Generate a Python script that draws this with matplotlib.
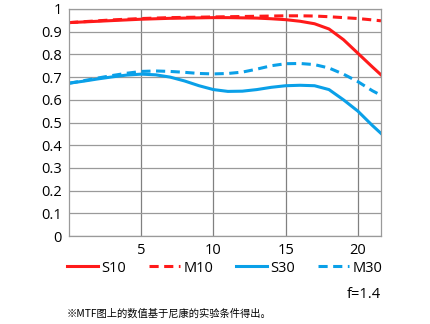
import matplotlib
matplotlib.use("Agg")
import matplotlib.pyplot as plt
import numpy as np
from matplotlib.lines import Line2D

plt.rcParams['font.family'] = ['Open Sans', 'Noto Sans CJK SC', 'DejaVu Sans']

x = [0, 1, 2, 3, 4, 5, 6, 7, 8, 9, 10, 11, 12, 13, 14, 15, 16, 17, 18, 19, 20, 21, 21.6]
s10 = [0.940, 0.943, 0.946, 0.949, 0.952, 0.955, 0.957, 0.959, 0.960, 0.961, 0.962, 0.962, 0.961, 0.960, 0.957, 0.953, 0.946, 0.935, 0.912, 0.865, 0.805, 0.745, 0.710]
m10 = [0.940, 0.944, 0.948, 0.952, 0.955, 0.958, 0.960, 0.962, 0.963, 0.964, 0.965, 0.966, 0.967, 0.968, 0.969, 0.970, 0.970, 0.969, 0.966, 0.962, 0.958, 0.952, 0.948]
s30 = [0.673, 0.682, 0.692, 0.701, 0.709, 0.713, 0.710, 0.700, 0.683, 0.662, 0.645, 0.637, 0.638, 0.645, 0.655, 0.662, 0.664, 0.662, 0.645, 0.600, 0.550, 0.487, 0.452]
m30 = [0.673, 0.684, 0.696, 0.707, 0.717, 0.725, 0.727, 0.725, 0.721, 0.716, 0.714, 0.716, 0.722, 0.735, 0.750, 0.759, 0.760, 0.755, 0.740, 0.713, 0.680, 0.640, 0.620]

series_labels = ['S10', 'M10', 'S30', 'M30']
x_ticks = [5, 10, 15, 20]
y_ticks = [0, 0.1, 0.2, 0.3, 0.4, 0.5, 0.6, 0.7, 0.8, 0.9, 1]
y_tick_labels = ['0', '0.1', '0.2', '0.3', '0.4', '0.5', '0.6', '0.7', '0.8', '0.9', '1']

red = '#ff1a1a'
blue = '#0aa0e8'
dash = (0, (3, 1.8))

fig = plt.figure(figsize=(4.30, 3.24), dpi=100)
ax = fig.add_axes([69/430, 1 - 236/324, (381 - 69)/430, (236 - 9)/324])

ax.plot(x, s10, color=red, lw=2.2)
ax.plot(x, m10, color=red, lw=2.2, ls=dash)
ax.plot(x, s30, color=blue, lw=2.2)
ax.plot(x, m30, color=blue, lw=2.2, ls=dash)

ax.set_xlim(0, 21.6)
ax.set_ylim(0, 1)
ax.set_xticks(x_ticks)
ax.set_yticks(y_ticks)
ax.set_yticklabels(y_tick_labels)
ax.tick_params(length=0, labelsize=10.5, colors='black', pad=5)
ax.grid(axis='y', color='#9a9a9a', lw=0.9)
ax.grid(axis='x', color='#808080', lw=0.9)
ax.set_axisbelow(True)
for sp in ax.spines.values():
    sp.set_color('#9a9a9a')
    sp.set_linewidth(0.9)

handles = [
    Line2D([], [], color=red, lw=2.2),
    Line2D([], [], color=red, lw=2.2, ls=dash),
    Line2D([], [], color=blue, lw=2.2),
    Line2D([], [], color=blue, lw=2.2, ls=dash),
]
leg = fig.legend(handles, series_labels, loc='center left', bbox_to_anchor=(67/430, 1 - 268/324),
                 ncol=4, frameon=False, fontsize=10.5, handlelength=2.1, handletextpad=0.25,
                 columnspacing=1.58, borderaxespad=0, borderpad=0)

fig.text(381/430, 1 - 295/324, 'f=1.4', ha='right', va='center', fontsize=10.5)
fig.text(67/430, 1 - 314/324, '※MTF图上的数值基于尼康的实验条件得出。', ha='left', va='center',
         fontsize=7.4, family=['Noto Sans CJK SC', 'DejaVu Sans'])

fig.savefig('out.png', dpi=100)
